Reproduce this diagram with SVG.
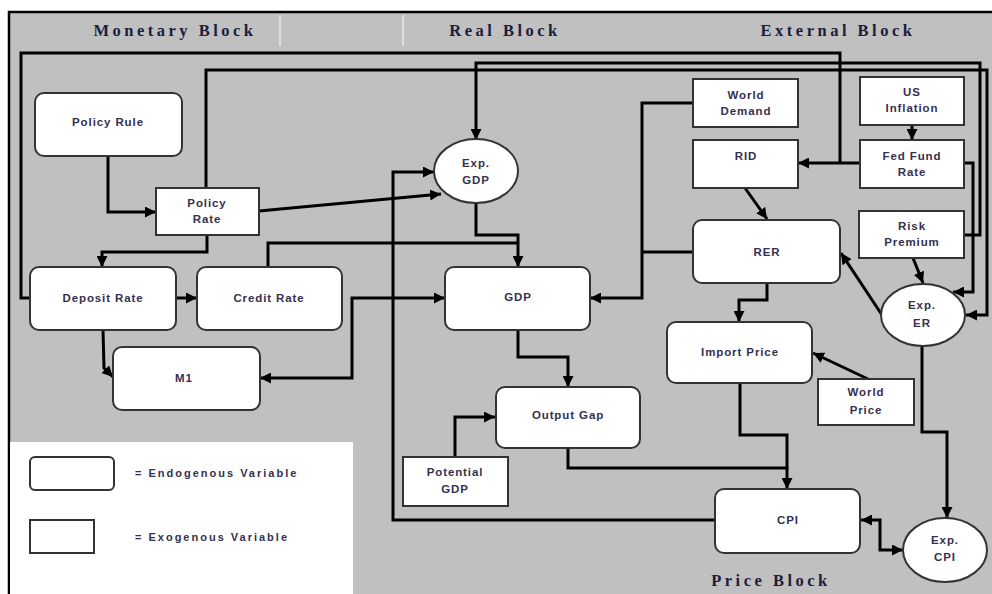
<svg xmlns="http://www.w3.org/2000/svg" width="992" height="594" viewBox="0 0 992 594">
<style>
.hdr{font-family:"Liberation Serif",serif;font-weight:bold;font-size:16.5px;letter-spacing:3.5px;fill:#1c1c3c;text-anchor:middle}
.lbl{font-family:"Liberation Sans",Arial,sans-serif;font-weight:bold;font-size:11.5px;letter-spacing:0.9px;fill:#35304f;text-anchor:middle}
.leg{font-family:"Liberation Sans",Arial,sans-serif;font-weight:bold;font-size:11px;letter-spacing:2px;fill:#35304f}
.endo{fill:#fff;stroke:#333;stroke-width:2}
.exo{fill:#fff;stroke:#333;stroke-width:2}
.con path{fill:none;stroke:#000;stroke-width:3;stroke-linejoin:miter}
</style>
<defs>
<marker id="ah" viewBox="0 0 10 10" refX="10" refY="5" markerWidth="11" markerHeight="11" markerUnits="userSpaceOnUse" orient="auto-start-reverse">
<path d="M0,0 L10,5 L0,10 z" fill="#000"/>
</marker>
</defs>
<rect x="0" y="0" width="992" height="594" fill="#fff"/>
<rect x="9" y="12" width="995" height="600" fill="#c0c0c0" stroke="#000" stroke-width="2.5"/>
<line x1="280" y1="15" x2="280" y2="46" stroke="#e8e8e8" stroke-width="1.5"/>
<line x1="403" y1="15" x2="403" y2="46" stroke="#e8e8e8" stroke-width="1.5"/>
<text class="hdr" x="175" y="36">Monetary Block</text>
<text class="hdr" x="505" y="36">Real Block</text>
<text class="hdr" x="838" y="36">External Block</text>
<text class="hdr" x="771" y="586">Price Block</text>

<g id="legend">
<rect x="10" y="442" width="343" height="152" fill="#fff"/>
<rect class="endo" x="30" y="457" width="84" height="33" rx="5"/>
<text class="leg" x="135" y="477">= Endogenous Variable</text>
<rect class="exo" x="30" y="520" width="64" height="33"/>
<text class="leg" x="135" y="541">= Exogenous Variable</text>
</g>

<g class="con" id="connectors">
<path d="M30,298 L21,298 L21,53 L840,53 L840,163"/>
<path d="M860,163 L798,163" marker-end="url(#ah)"/>
<path d="M964,235 L980,235 L980,63 L476,63 L476,140" marker-end="url(#ah)"/>
<path d="M206,188 L206,70 L987,70 L987,315 L966,315" marker-end="url(#ah)"/>
<path d="M964,163 L973,163 L973,292 L953,292" marker-end="url(#ah)"/>
<path d="M108,156 L108,212 L156,212" marker-end="url(#ah)"/>
<path d="M259,211 L441,194" marker-end="url(#ah)"/>
<path d="M207,235 L207,252 L102,252 L102,267" marker-end="url(#ah)"/>
<path d="M176,298 L197,298" marker-end="url(#ah)"/>
<path d="M103,330 L104,368 L113,377" marker-end="url(#ah)"/>
<path d="M268,267 L268,243 L518,243"/>
<path d="M476,203 L476,235 L518,235 L518,267" marker-end="url(#ah)"/>
<path d="M260,378 L352,378 L352,298 L445,298" marker-start="url(#ah)" marker-end="url(#ah)"/>
<path d="M715,520 L393,520 L393,172 L434,172" marker-end="url(#ah)"/>
<path d="M693,103 L642,103 L642,298 L590,298" marker-end="url(#ah)"/>
<path d="M693,252 L642,252"/>
<path d="M518,330 L518,357 L568,357 L568,387" marker-end="url(#ah)"/>
<path d="M455,457 L455,417 L495,417" marker-end="url(#ah)"/>
<path d="M568,448 L568,468 L787,468 L787,489" marker-end="url(#ah)"/>
<path d="M740,383 L740,435 L787,435 L787,468"/>
<path d="M861,520 L880,520 L880,550 L903,550" marker-start="url(#ah)" marker-end="url(#ah)"/>
<path d="M922,346 L922,432 L947,432 L947,518" marker-end="url(#ah)"/>
<path d="M912,125 L912,140" marker-end="url(#ah)"/>
<path d="M745,188 L767,219" marker-end="url(#ah)"/>
<path d="M767,283 L767,300 L739,300 L739,322" marker-end="url(#ah)"/>
<path d="M868,379 L813,353" marker-end="url(#ah)"/>
<path d="M913,258 L923,283" marker-end="url(#ah)"/>
<path d="M882,315 L841,253" marker-end="url(#ah)"/>
</g>

<g id="policy-rule"><rect class="endo" x="35" y="93" width="147" height="63" rx="9"/><text class="lbl" x="108" y="126">Policy Rule</text></g>
<g id="policy-rate"><rect class="exo" x="156" y="188" width="103" height="47"/><text class="lbl" x="207" y="207">Policy</text><text class="lbl" x="207" y="223">Rate</text></g>
<g id="deposit-rate"><rect class="endo" x="30" y="267" width="146" height="63" rx="9"/><text class="lbl" x="103" y="302">Deposit Rate</text></g>
<g id="credit-rate"><rect class="endo" x="197" y="267" width="145" height="63" rx="9"/><text class="lbl" x="269" y="302">Credit Rate</text></g>
<g id="m1"><rect class="endo" x="113" y="347" width="147" height="63" rx="9"/><text class="lbl" x="184" y="382" letter-spacing="3">M1</text></g>
<g id="exp-gdp"><ellipse class="endo" cx="476" cy="171" rx="42" ry="32"/><text class="lbl" x="476" y="167">Exp.</text><text class="lbl" x="476" y="184">GDP</text></g>
<g id="gdp"><rect class="endo" x="445" y="267" width="145" height="63" rx="9"/><text class="lbl" x="518" y="301" letter-spacing="3">GDP</text></g>
<g id="output-gap"><rect class="endo" x="496" y="387" width="144" height="61" rx="9"/><text class="lbl" x="568" y="419">Output Gap</text></g>
<g id="potential-gdp"><rect class="exo" x="403" y="457" width="105" height="49"/><text class="lbl" x="455" y="476">Potential</text><text class="lbl" x="455" y="493">GDP</text></g>
<g id="cpi"><rect class="endo" x="715" y="489" width="145" height="64" rx="9"/><text class="lbl" x="788" y="524" letter-spacing="2">CPI</text></g>
<g id="exp-cpi"><ellipse class="endo" cx="945" cy="550" rx="42" ry="32"/><text class="lbl" x="945" y="544">Exp.</text><text class="lbl" x="945" y="561">CPI</text></g>
<g id="world-demand"><rect class="exo" x="693" y="79" width="105" height="48"/><text class="lbl" x="746" y="99">World</text><text class="lbl" x="746" y="115">Demand</text></g>
<g id="rid"><rect class="exo" x="693" y="140" width="105" height="48"/><text class="lbl" x="746" y="160">RID</text></g>
<g id="us-inflation"><rect class="exo" x="860" y="77" width="104" height="48"/><text class="lbl" x="912" y="96">US</text><text class="lbl" x="912" y="112">Inflation</text></g>
<g id="fed-fund-rate"><rect class="exo" x="860" y="140" width="104" height="48"/><text class="lbl" x="912" y="160">Fed Fund</text><text class="lbl" x="912" y="176">Rate</text></g>
<g id="rer"><rect class="endo" x="693" y="220" width="147" height="63" rx="9"/><text class="lbl" x="767" y="256" letter-spacing="2">RER</text></g>
<g id="risk-premium"><rect class="exo" x="859" y="211" width="105" height="47"/><text class="lbl" x="912" y="230">Risk</text><text class="lbl" x="912" y="246">Premium</text></g>
<g id="exp-er"><ellipse class="endo" cx="923" cy="315" rx="42" ry="31"/><text class="lbl" x="922" y="309">Exp.</text><text class="lbl" x="922" y="327">ER</text></g>
<g id="import-price"><rect class="endo" x="667" y="322" width="145" height="61" rx="9"/><text class="lbl" x="740" y="356">Import Price</text></g>
<g id="world-price"><rect class="exo" x="818" y="379" width="96" height="46"/><text class="lbl" x="866" y="396">World</text><text class="lbl" x="866" y="414">Price</text></g>
</svg>
